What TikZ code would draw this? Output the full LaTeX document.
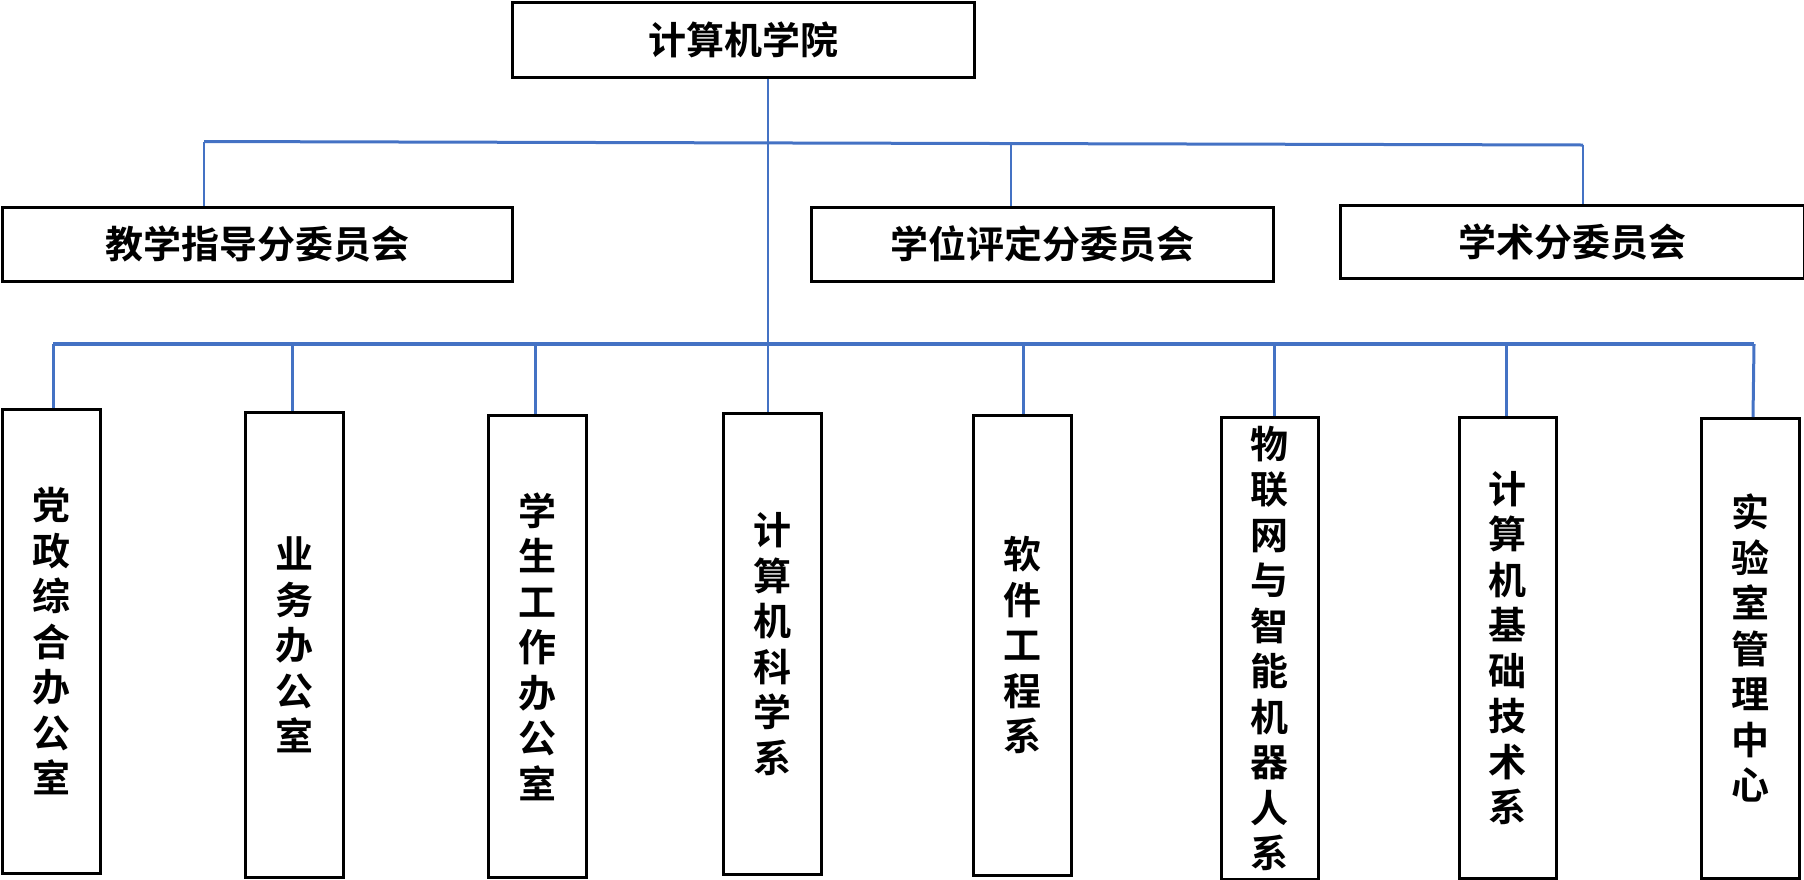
\documentclass[tikz,border=0pt]{standalone}
\usepackage{fontspec}
\newfontfamily\cjkb{Noto Sans CJK SC Bold}
\definecolor{linkblue}{HTML}{4472C4}
\begin{document}
\begin{tikzpicture}[x=1pt,y=-1pt,
  box/.style={draw=black, line width=2.8pt, inner sep=0pt, anchor=north west,
    font=\cjkb\fontsize{38}{45.5}\selectfont, align=center},
  conn/.style={draw=linkblue, line width=3pt},
  thinconn/.style={draw=linkblue, line width=2.2pt}]
\useasboundingbox (0,0) rectangle (1804,879);
% top
\node[box, minimum width=462pt, minimum height=75pt] (top) at (511,1) {计算机学院};
% committees
\node[box, minimum width=510pt, minimum height=74pt] (cA) at (1,206) {教学指导分委员会};
\node[box, minimum width=462pt, minimum height=74pt] (cB) at (810,206) {学位评定分委员会};
\node[box, minimum width=464pt, minimum height=73pt] (cC) at (1339,204) {学术分委员会};
% departments
\node[box, minimum width=98pt, minimum height=464pt] (d1) at (1,408) {党\\政\\综\\合\\办\\公\\室};
\node[box, minimum width=98pt, minimum height=465pt] (d2) at (244,411) {业\\务\\办\\公\\室};
\node[box, minimum width=98pt, minimum height=462pt] (d3) at (487,414) {学\\生\\工\\作\\办\\公\\室};
\node[box, minimum width=98pt, minimum height=461pt] (d4) at (722,412) {计\\算\\机\\科\\学\\系};
\node[box, minimum width=98pt, minimum height=460pt] (d5) at (972,414) {软\\件\\工\\程\\系};
\node[box, minimum width=97pt, minimum height=462pt] (d6) at (1220,416) {物\\联\\网\\与\\智\\能\\机\\器\\人\\系};
\node[box, minimum width=97pt, minimum height=461pt] (d7) at (1458,416) {计\\算\\机\\基\\础\\技\\术\\系};
\node[box, minimum width=98pt, minimum height=460pt] (d8) at (1700,417) {实\\验\\室\\管\\理\\中\\心};
% junction coordinates
\coordinate (cl) at (204,141.5);
\coordinate (cm) at (1011,143.5);
\coordinate (cr) at (1583,145);
\coordinate (b1) at (53,344);
\coordinate (b2) at (292,344);
\coordinate (b3) at (535,344);
\coordinate (b5) at (1023,344);
\coordinate (b6) at (1274,344);
\coordinate (b7) at (1506,344);
\coordinate (b8) at (1754,344);
% trunk
\draw[conn, line width=2.6pt] (768,0 |- top.south) -- (768,0 |- d4.north);
% committee line and drops
\draw[conn] (cl) -- (cr);
\draw[thinconn] (cl) -- (204,0 |- cA.north);
\draw[thinconn] (cm) -- (1011,0 |- cB.north);
\draw[thinconn] (cr) -- (1583,0 |- cC.north);
% department line and drops
\draw[conn, line width=3.4pt] (b1) -- (b8);
\draw[conn] (b1) -- (53,0 |- d1.north);
\draw[conn] (b2) -- (292,0 |- d2.north);
\draw[conn] (b3) -- (535,0 |- d3.north);
\draw[conn] (b5) -- (1023,0 |- d5.north);
\draw[conn] (b6) -- (1274,0 |- d6.north);
\draw[conn] (b7) -- (1506,0 |- d7.north);
\draw[conn] (b8) -- (1753,0 |- d8.north);
\end{tikzpicture}
\end{document}
